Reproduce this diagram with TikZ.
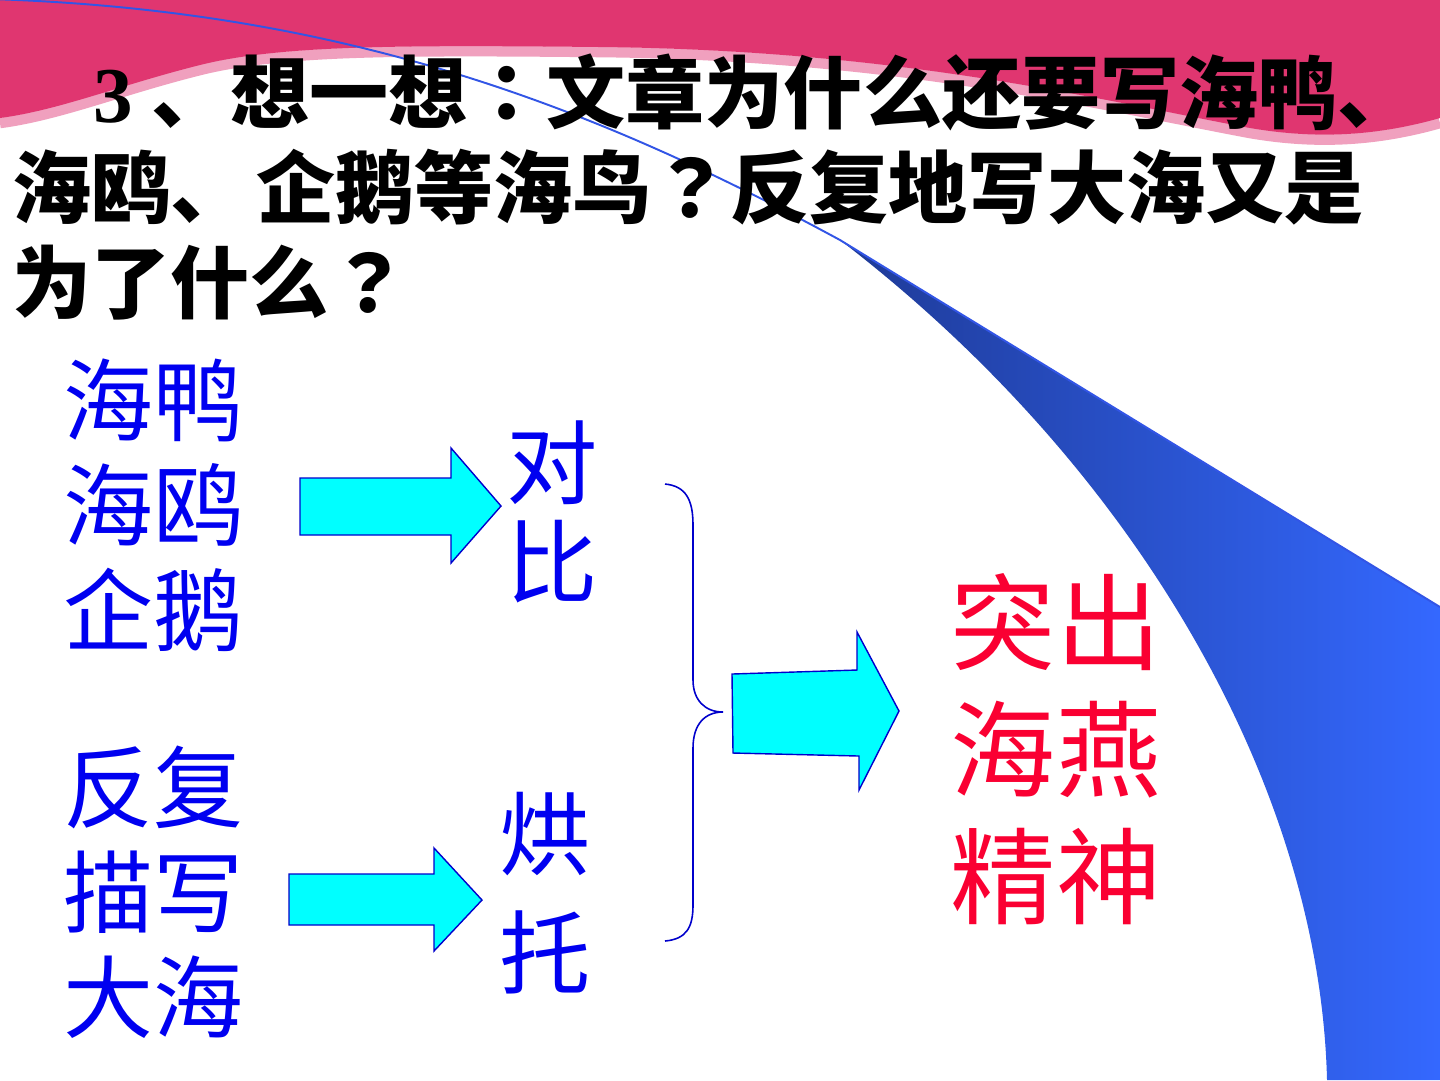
\documentclass[tikz,border=0pt]{standalone}
\usepackage{fontspec}
\newfontfamily\cjk{Noto Sans CJK SC}[BoldFont={Noto Sans CJK SC Black}]
\newfontfamily\cjkjp{Noto Sans CJK JP}[BoldFont={Noto Sans CJK JP Black}]
\newfontfamily\tms{Liberation Serif}
\usetikzlibrary{positioning}
\definecolor{bandpink}{RGB}{224,54,112}
\definecolor{rimpink}{RGB}{240,160,190}
\definecolor{swdark}{RGB}{30,58,150}
\definecolor{swlight}{RGB}{52,104,255}
\definecolor{swline}{RGB}{50,85,230}
\definecolor{txtblue}{RGB}{0,0,240}
\definecolor{txtred}{RGB}{250,0,50}
\definecolor{arrcyan}{RGB}{0,255,255}
\newcommand\qmk{{\cjkjp\bfseries ？}}
\newcommand\cln{{\cjkjp\bfseries ：}}

\begin{document}
\begin{tikzpicture}[x=0.1mm, y=-0.1mm,
  title/.style={anchor=base west, inner sep=0pt,
                font=\cjk\bfseries\fontsize{22.5pt}{27pt}\selectfont},
  word/.style={align=center, inner sep=0pt, text=txtblue},
  fatarr/.style={fill=arrcyan, draw=blue!80!black, line width=0.4pt},
  brace/.style={draw=blue!80!black, line width=0.45pt}]
\useasboundingbox (0,0) rectangle (1440,1080);
\clip (0,0) rectangle (1440,1080);
\fill[white] (0,0) rectangle (1440,1080);
\draw[rimpink, line width=3pt, shift={(0,5)}] (1440,118) .. controls (1380,135) and (1320,140) .. (1250,128)
  .. controls (1100,100) and (900,50) .. (600,47) .. controls (400,45) and (280,45) .. (200,65)
  .. controls (120,85) and (60,110) .. (0,118);
\fill[bandpink] (0,0) -- (1440,0) -- (1440,118) .. controls (1380,135) and (1320,140) .. (1250,128)
  .. controls (1100,100) and (900,50) .. (600,47) .. controls (400,45) and (280,45) .. (200,65)
  .. controls (120,85) and (60,110) .. (0,118) -- cycle;
\path[left color=swdark, right color=swlight] (840,240) -- (1440,607) -- (1440,1080) -- (1327,1080)
  .. controls (1320,790) and (1140,470) .. (840,240) -- cycle;
\draw[swline, line width=0.55pt] (-10,-1) .. controls (350,10) and (600,110) .. (840,240) -- (1440,607);
\node[title] (title1) at (93,122) {{\tms 3} 、想一想\cln 文章为什么还要写海鸭、};
\node[title] (title2) at (12,217) {海鸥、\hspace{0.08em}企鹅等海鸟\qmk 反复地写大海又是};
\node[title] (title3) at (12,312) {为了什么\qmk};
\node[word, font=\cjk\fontsize{25.6pt}{29.9pt}\selectfont] (birds) at (153,505) {海鸭\\海鸥\\企鹅};
\node[word, font=\cjk\fontsize{25.6pt}{29.9pt}\selectfont] (sea) at (153,892) {反复\\描写\\大海};
\node[word, font=\cjk\fontsize{26pt}{28.2pt}\selectfont] (contrast) at (552,512) {对\\比};
\node[word, font=\cjk\fontsize{26pt}{33.9pt}\selectfont] (foil) at (545,893) {烘\\托};
\node[word, text=txtred, font=\cjk\fontsize{29.9pt}{36.1pt}\selectfont] (spirit) at (1056,749) {突出\\海燕\\精神};
\draw[fatarr] (300,478) -- (451,478) -- (451,448) -- (501,506) -- (451,563) -- (451,535) -- (300,535) -- cycle;
\draw[fatarr] (289,874) -- (434,874) -- (434,848) -- (482,900) -- (434,951) -- (434,925) -- (289,925) -- cycle;
\draw[fatarr] (732,674) -- (857,670) -- (857,632) -- (899,711) -- (859,790) -- (859,756) -- (733,753) -- cycle;
\draw[brace] (665,484) .. controls (686,486) and (693,500) .. (693,525) -- (693,680)
  .. controls (693,700) and (705,712) .. (723,712) .. controls (705,712) and (693,724) .. (693,748)
  -- (693,905) .. controls (693,928) and (686,939) .. (665,941);
\end{tikzpicture}
\end{document}
